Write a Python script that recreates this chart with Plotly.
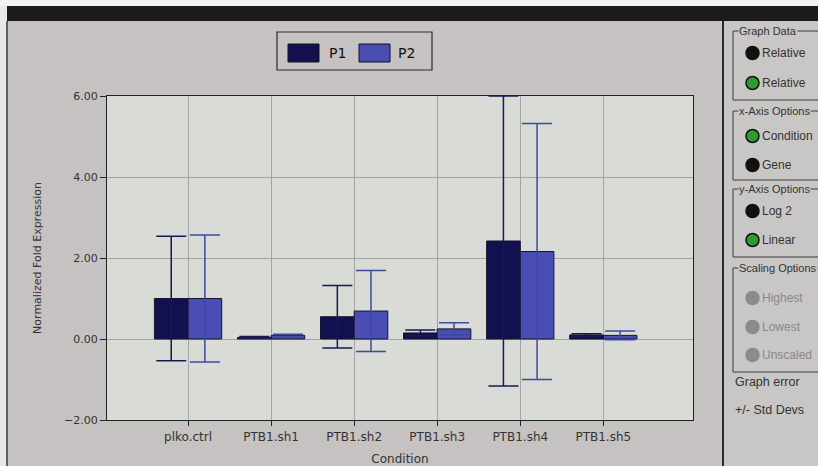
import plotly.graph_objects as go

categories = ["plko.ctrl", "PTB1.sh1", "PTB1.sh2", "PTB1.sh3", "PTB1.sh4", "PTB1.sh5"]
p1_values = [1.0, 0.04, 0.55, 0.15, 2.42, 0.10]
p1_errors = [1.54, 0.02, 0.77, 0.07, 3.58, 0.03]
p2_values = [1.0, 0.09, 0.69, 0.25, 2.16, 0.09]
p2_errors = [1.57, 0.03, 1.00, 0.15, 3.16, 0.11]
y_ticks = [-2, 0, 2, 4, 6]

P1_COLOR = "#12104f"
P2_COLOR = "#4a4db3"
PAPER = "#c6c2c2"
PLOT_BG = "#d8dbd6"
TXT = "#333333"
FONT = "DejaVu Sans"
PANEL_FONT = "Liberation Sans"

W, H = 818, 466
ML, MR, MT, MB = 107, 125, 96, 46
PW, PH = W - ML - MR, H - MT - MB


def px(x):
    return (x - ML) / PW


def py(y):
    return (H - MB - y) / PH


fig = go.Figure()
fig.add_trace(go.Bar(
    name="P1", x=categories, y=p1_values, marker_color=P1_COLOR,
    marker_line=dict(color="#151530", width=1),
    error_y=dict(type="data", array=p1_errors, visible=True,
                 color="#1a1850", thickness=1.5, width=15),
    showlegend=False,
))
fig.add_trace(go.Bar(
    name="P2", x=categories, y=p2_values, marker_color=P2_COLOR,
    marker_line=dict(color="#151530", width=1),
    error_y=dict(type="data", array=p2_errors, visible=True,
                 color="#3f4a9c", thickness=1.5, width=15),
    showlegend=False,
))

shapes = []
annotations = []

# top dark strip and left edge
shapes.append(dict(type="rect", xref="paper", yref="paper",
                   x0=px(0), x1=px(818), y0=py(21), y1=py(6),
                   fillcolor="#1c1a1c", line_width=0, layer="below"))
shapes.append(dict(type="rect", xref="paper", yref="paper",
                   x0=px(0), x1=px(818), y0=py(6), y1=py(0),
                   fillcolor="#f2f2f2", line_width=0, layer="below"))
shapes.append(dict(type="rect", xref="paper", yref="paper",
                   x0=px(0), x1=px(7), y0=py(466), y1=py(6),
                   fillcolor="#e8e8e8", line_width=0, layer="below"))
shapes.append(dict(type="line", xref="paper", yref="paper",
                   x0=px(7), x1=px(7), y0=py(466), y1=py(21),
                   line=dict(color="#3a3a3a", width=1.5)))

# custom legend
shapes.append(dict(type="rect", xref="paper", yref="paper",
                   x0=px(277), x1=px(432), y0=py(70), y1=py(32),
                   line=dict(color="#2a2a2a", width=1.2), fillcolor=PAPER))
for (x0, x1, col, lab, tx) in [(288, 319, P1_COLOR, "P1", 327),
                                (359, 390, P2_COLOR, "P2", 396)]:
    shapes.append(dict(type="rect", xref="paper", yref="paper",
                       x0=px(x0), x1=px(x1), y0=py(62), y1=py(44),
                       fillcolor=col, line=dict(color="#101020", width=1)))
    annotations.append(dict(xref="paper", yref="paper", x=px(tx), y=py(53),
                            text=lab, showarrow=False, xanchor="left",
                            yanchor="middle",
                            font=dict(family=FONT, size=14, color="#111111")))

# right panel
shapes.append(dict(type="rect", xref="paper", yref="paper",
                   x0=px(720), x1=px(818), y0=py(466), y1=py(21),
                   fillcolor="#c9c6c6", line_width=0, layer="below"))
shapes.append(dict(type="line", xref="paper", yref="paper",
                   x0=px(723), x1=px(723), y0=py(466), y1=py(21),
                   line=dict(color="#2a2a2a", width=2)))

groups = [
    ("Graph Data", 31, 100, [("Relative", 53, "#111111"), ("Relative", 83, "#2f9a2f")]),
    ("x-Axis Options", 111, 180, [("Condition", 136, "#2f9a2f"), ("Gene", 165, "#111111")]),
    ("y-Axis Options", 189, 257, [("Log 2", 211, "#111111"), ("Linear", 240, "#2f9a2f")]),
    ("Scaling Options", 268, 372, [("Highest", 298, "#8c8a8a"), ("Lowest", 327, "#8c8a8a"),
                                   ("Unscaled", 355, "#8c8a8a")]),
]
for title, y0, y1, items in groups:
    shapes.append(dict(type="rect", xref="paper", yref="paper",
                       x0=px(733), x1=px(830), y0=py(y1), y1=py(y0),
                       line=dict(color="#3a3a3a", width=1)))
    annotations.append(dict(xref="paper", yref="paper", x=px(738), y=py(y0),
                            text=title, showarrow=False, xanchor="left",
                            yanchor="middle", bgcolor="#c9c6c6",
                            borderpad=0,
                            font=dict(family=PANEL_FONT, size=11, color=TXT)))
    for lab, yy, col in items:
        grey = col == "#8c8a8a"
        shapes.append(dict(type="circle", xref="paper", yref="paper",
                           x0=px(746), x1=px(759), y0=py(yy + 6.5), y1=py(yy - 6.5),
                           fillcolor=col,
                           line=dict(color="#8c8a8a" if grey else "#111111", width=1.5)))
        annotations.append(dict(xref="paper", yref="paper", x=px(760), y=py(yy),
                                text=lab, showarrow=False, xanchor="left",
                                yanchor="middle",
                                font=dict(family=PANEL_FONT, size=12,
                                          color="#8a8888" if grey else TXT)))
annotations.append(dict(xref="paper", yref="paper", x=px(733), y=py(382),
                        text="Graph error", showarrow=False, xanchor="left",
                        yanchor="middle", font=dict(family=PANEL_FONT, size=12.5, color=TXT)))
annotations.append(dict(xref="paper", yref="paper", x=px(733), y=py(410),
                        text="+/- Std Devs", showarrow=False, xanchor="left",
                        yanchor="middle", font=dict(family=PANEL_FONT, size=12.5, color=TXT)))

fig.update_layout(
    width=W, height=H,
    margin=dict(l=ML, r=MR, t=MT, b=MB, pad=0, autoexpand=False),
    paper_bgcolor=PAPER, plot_bgcolor=PLOT_BG,
    barmode="group", bargap=0.19, bargroupgap=0,
    font=dict(family=FONT, color=TXT),
    shapes=shapes, annotations=annotations,
    xaxis=dict(
        type="category", range=[-0.976, 6.08], automargin=False,
        showgrid=True, gridcolor="#a3a5a2", gridwidth=1,
        showline=True, linecolor="#222222", linewidth=1.2, mirror=True,
        ticks="outside", ticklen=5, tickcolor="#222222",
        tickfont=dict(family=FONT, size=12, color=TXT),
        title=dict(text="Condition", font=dict(family=FONT, size=12, color=TXT),
                   standoff=22),
    ),
    yaxis=dict(
        range=[-2, 6], tickvals=y_ticks, tickformat=".2f", automargin=False,
        showgrid=True, gridcolor="#a3a5a2", gridwidth=1,
        zeroline=True, zerolinecolor="#a3a5a2", zerolinewidth=1,
        showline=True, linecolor="#222222", linewidth=1.2, mirror=True,
        ticks="outside", ticklen=6, tickcolor="#222222",
        tickfont=dict(family=FONT, size=11, color=TXT),
        title=dict(text="Normalized Fold Expression",
                   font=dict(family=FONT, size=11, color=TXT), standoff=20),
    ),
)

fig.write_html("out.html", config={"displayModeBar": False},
               post_script="document.body.style.margin='0';")
